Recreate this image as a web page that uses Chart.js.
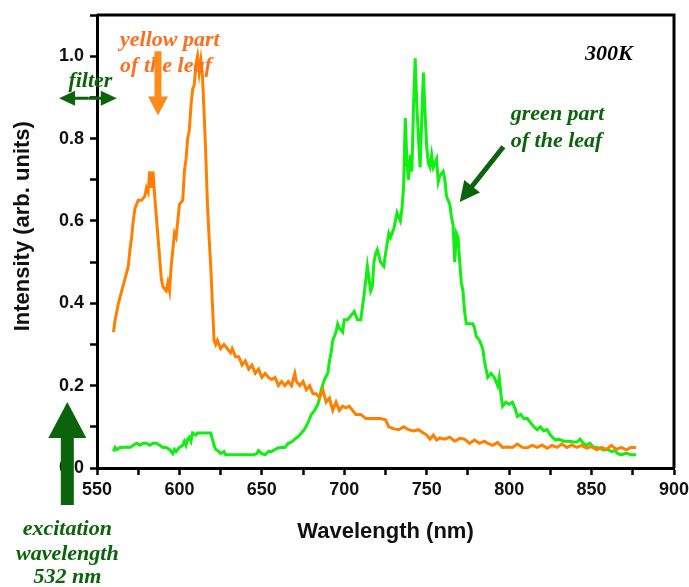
<!DOCTYPE html>
<html>
<head>
<meta charset="utf-8">
<script src="https://cdn.jsdelivr.net/npm/chart.js"></script>
<style>
	body { margin: 0; background: #fff; }
	canvas { display: block; }
</style>
</head>
<body>
<canvas id="spectrum-chart" width="689" height="587"></canvas>
<script>
// yellow part of the leaf (orange trace)
var yellowWl = [560,561,563,565,567,569,570,571,572,573,575,577,579,580,581,582,583,584,585,586,587,588,589,590,592,593,594,595,596,597,598,600,602,603,604,605,606,607,608,609,610,611,612,613,614,615,616,617,618,619,620,621,622,623,625,627,629,631,632,634,636,638,640,642,644,646,648,650,652,654,656,658,660,662,664,666,668,670,671,673,675,677,679,681,683,685,687,689,691,693,695,697,699,701,703,705,707,710,713,716,719,722,725,727,730,733,736,739,742,745,748,750,752,754,756,758,761,764,767,770,773,776,779,782,785,787,790,793,796,799,802,805,808,811,814,817,820,823,826,829,832,835,838,841,844,847,850,853,856,859,862,865,868,871,874,877];
var yellowInt = [0.33,0.36,0.40,0.43,0.46,0.49,0.53,0.56,0.60,0.63,0.65,0.65,0.66,0.68,0.67,0.72,0.68,0.72,0.66,0.61,0.56,0.51,0.46,0.44,0.43,0.45,0.43,0.49,0.53,0.57,0.56,0.64,0.65,0.72,0.75,0.80,0.82,0.88,0.92,0.93,0.98,1.00,0.96,0.99,0.95,0.86,0.76,0.64,0.56,0.49,0.40,0.31,0.30,0.31,0.29,0.30,0.29,0.28,0.29,0.27,0.27,0.25,0.26,0.24,0.25,0.23,0.24,0.22,0.23,0.22,0.215,0.22,0.20,0.21,0.20,0.21,0.20,0.23,0.21,0.20,0.21,0.19,0.20,0.18,0.18,0.17,0.19,0.16,0.17,0.14,0.16,0.14,0.15,0.146,0.15,0.14,0.13,0.13,0.12,0.12,0.12,0.12,0.117,0.10,0.095,0.093,0.10,0.093,0.09,0.093,0.085,0.08,0.07,0.08,0.068,0.073,0.07,0.075,0.065,0.072,0.07,0.06,0.068,0.06,0.065,0.06,0.055,0.062,0.05,0.051,0.05,0.058,0.05,0.049,0.055,0.05,0.056,0.048,0.055,0.05,0.058,0.05,0.056,0.05,0.055,0.048,0.052,0.044,0.05,0.045,0.055,0.045,0.05,0.044,0.05,0.05];

// green part of the leaf (green trace)
var greenWl = [560,561,562,564,566,568,570,572,574,576,578,580,582,584,586,588,590,592,594,596,597,598,600,602,603,604,605,606,607,608,610,611,613,615,617,619,620,621,622,624,625,627,628,630,635,640,645,647,648,650,652,654,656,658,660,662,664,666,668,670,672,674,676,678,680,682,684,685,686,688,690,691,692,693,694,695,696,697,699,700,702,704,706,708,710,712,714,715,716,717,718,719,720,722,724,725,727,728,730,732,734,735,736,737,738,739,740,741,742,743,744,745,746,747,748,749,750,751,752,753,754,756,757,758,760,761,762,764,765,766,767,768,769,770,771,772,773,774,776,778,779,780,782,784,785,786,787,789,791,793,794,795,796,798,800,802,804,805,807,809,811,813,815,817,819,821,823,825,828,830,833,836,839,841,843,845,847,849,851,853,855,857,860,862,864,866,868,871,874,877];
var greenInt = [0.04,0.05,0.045,0.05,0.05,0.051,0.05,0.055,0.06,0.055,0.06,0.06,0.055,0.06,0.06,0.055,0.05,0.05,0.045,0.035,0.045,0.04,0.05,0.055,0.065,0.055,0.07,0.075,0.065,0.085,0.08,0.085,0.085,0.085,0.085,0.085,0.07,0.055,0.045,0.04,0.035,0.04,0.032,0.032,0.032,0.032,0.032,0.035,0.042,0.035,0.032,0.04,0.04,0.045,0.049,0.05,0.05,0.06,0.063,0.07,0.076,0.085,0.095,0.11,0.13,0.14,0.155,0.17,0.19,0.215,0.23,0.26,0.28,0.31,0.32,0.33,0.35,0.34,0.33,0.36,0.36,0.37,0.38,0.36,0.36,0.42,0.49,0.46,0.43,0.44,0.50,0.52,0.53,0.50,0.49,0.52,0.57,0.56,0.58,0.62,0.60,0.63,0.685,0.85,0.74,0.70,0.76,0.72,0.88,0.995,0.88,0.80,0.73,0.85,0.96,0.86,0.78,0.74,0.73,0.76,0.73,0.75,0.695,0.71,0.72,0.70,0.66,0.64,0.61,0.59,0.50,0.57,0.56,0.50,0.45,0.43,0.38,0.35,0.35,0.35,0.34,0.32,0.31,0.29,0.26,0.24,0.22,0.23,0.22,0.20,0.22,0.18,0.15,0.16,0.155,0.16,0.14,0.125,0.13,0.12,0.12,0.11,0.10,0.093,0.10,0.09,0.093,0.08,0.068,0.07,0.065,0.065,0.063,0.063,0.07,0.06,0.055,0.06,0.051,0.05,0.048,0.044,0.045,0.04,0.042,0.035,0.032,0.036,0.032,0.032];

var xTicks = [550,600,650,700,750,800,850,900];
var yTicks = [0.0,0.2,0.4,0.6,0.8,1.0];

function toPoints(xs, ys){
	return xs.map(function(x, i){ return {x: x, y: ys[i]}; });
}

var darkGreen = '#0b640b';
var serifFont = 'italic bold 22px "Liberation Serif", "DejaVu Serif", serif';
var sansFont = '"Liberation Sans", Arial, sans-serif';

function arrow(ctx, x1, y1, x2, y2, shaft, headLen, headW, color){
	var ang = Math.atan2(y2 - y1, x2 - x1);
	var len = Math.hypot(x2 - x1, y2 - y1);
	ctx.save();
	ctx.translate(x1, y1);
	ctx.rotate(ang);
	ctx.fillStyle = color;
	ctx.beginPath();
	ctx.moveTo(0, -shaft/2);
	ctx.lineTo(len - headLen, -shaft/2);
	ctx.lineTo(len - headLen, -headW/2);
	ctx.lineTo(len, 0);
	ctx.lineTo(len - headLen, headW/2);
	ctx.lineTo(len - headLen, shaft/2);
	ctx.lineTo(0, shaft/2);
	ctx.closePath();
	ctx.fill();
	ctx.restore();
}

var notes = {
	id: 'notes',
	afterDraw: function(chart){
		var ctx = chart.ctx;
		var a = chart.chartArea;
		var sx = chart.scales.x, sy = chart.scales.y;
		function px(v){ return sx.getPixelForValue(v); }
		function py(v){ return sy.getPixelForValue(v); }

		// frame on top / right
		ctx.save();
		ctx.strokeStyle = '#000';
		ctx.lineWidth = 3;
		ctx.beginPath();
		ctx.moveTo(a.left, a.top);
		ctx.lineTo(a.right, a.top);
		ctx.lineTo(a.right, a.bottom);
		ctx.stroke();

		ctx.font = serifFont;
		ctx.textBaseline = 'alphabetic';

		// yellow part label + arrow
		ctx.fillStyle = '#ff6e1c';
		ctx.textAlign = 'left';
		ctx.fillText('yellow part', px(564), 46);
		ctx.fillText('of the leaf', px(564), 72);
		arrow(ctx, px(587), py(1.012), px(587), py(0.856), 7, 19, 20, '#ff8c1a');

		// filter
		ctx.fillStyle = darkGreen;
		ctx.textAlign = 'center';
		ctx.fillText('filter', px(546), 87);
		arrow(ctx, px(545), py(0.898), px(527), py(0.898), 3, 16, 15, darkGreen);
		arrow(ctx, px(545), py(0.898), px(562), py(0.898), 3, 16, 15, darkGreen);

		// 300K
		ctx.fillStyle = '#000';
		ctx.textAlign = 'right';
		ctx.fillText('300K', px(875), 60);

		// green part label + arrow
		ctx.fillStyle = darkGreen;
		ctx.textAlign = 'left';
		ctx.fillText('green part', px(801), 120);
		ctx.fillText('of the leaf', px(801), 147);
		arrow(ctx, px(796.5), py(0.78), px(770), py(0.646), 5, 20, 20, darkGreen);

		// excitation wavelength
		arrow(ctx, px(532), py(-0.09), px(532), py(0.16), 13, 36, 38, darkGreen);
		ctx.textAlign = 'center';
		ctx.fillText('excitation', px(532), 535);
		ctx.fillText('wavelength', px(532), 560);
		ctx.fillText('532 nm', px(532), 583);
		ctx.restore();
	}
};

var ctx = document.getElementById('spectrum-chart');
var spectrumChart = new Chart(ctx, {
	type: 'line',
	data: {
		datasets: [{
			label: 'yellow part of the leaf',
			data: toPoints(yellowWl, yellowInt),
			borderColor: '#ff8000',
			borderWidth: 3,
			pointRadius: 0,
			tension: 0,
			fill: false
		}, {
			label: 'green part of the leaf',
			data: toPoints(greenWl, greenInt),
			borderColor: '#11ee11',
			borderWidth: 3,
			pointRadius: 0,
			tension: 0,
			fill: false
		}]
	},
	options: {
		responsive: false,
		animation: false,
		layout: { padding: { top: 15, right: 15, left: 0, bottom: 0 } },
		plugins: {
			legend: { display: false },
			tooltip: { enabled: false }
		},
		scales: {
			x: {
				type: 'linear',
				min: 550,
				max: 900,
				afterFit: function(s){
					s.height = 119;
					s.paddingLeft = 0;
					s.paddingRight = 0;
				},
				border: { display: true, color: '#000', width: 3 },
				grid: { drawOnChartArea: false, drawTicks: true, tickLength: 7, tickWidth: 2.5, tickColor: '#000' },
				ticks: {
					stepSize: 25,
					autoSkip: false,
					maxRotation: 0,
					padding: 4,
					color: '#111',
					font: { family: sansFont, size: 18, weight: 'bold' },
					callback: function(v){ return xTicks.indexOf(v) >= 0 ? String(v) : ''; }
				},
				title: {
					display: true,
					text: 'Wavelength (nm)',
					color: '#111',
					font: { family: sansFont, size: 22, weight: 'bold' },
					padding: { top: 0, bottom: 42 }
				}
			},
			y: {
				min: 0,
				max: 1.1,
				afterFit: function(s){
					s.width = 97;
					s.paddingTop = 0;
					s.paddingBottom = 0;
				},
				border: { display: true, color: '#000', width: 3 },
				grid: { drawOnChartArea: false, drawTicks: true, tickLength: 7, tickWidth: 2.5, tickColor: '#000' },
				ticks: {
					stepSize: 0.1,
					autoSkip: false,
					padding: 6,
					color: '#111',
					font: { family: sansFont, size: 18, weight: 'bold' },
					callback: function(v){
						var r = Math.round(v * 10) / 10;
						return yTicks.indexOf(r) >= 0 ? r.toFixed(1) : '';
					}
				},
				title: {
					display: true,
					text: '     Intensity (arb. units)',
					color: '#111',
					font: { family: sansFont, size: 22, weight: 'bold' },
					padding: { top: 10, bottom: 0 }
				}
			}
		}
	},
	plugins: [notes]
});
</script>
</body>
</html>
